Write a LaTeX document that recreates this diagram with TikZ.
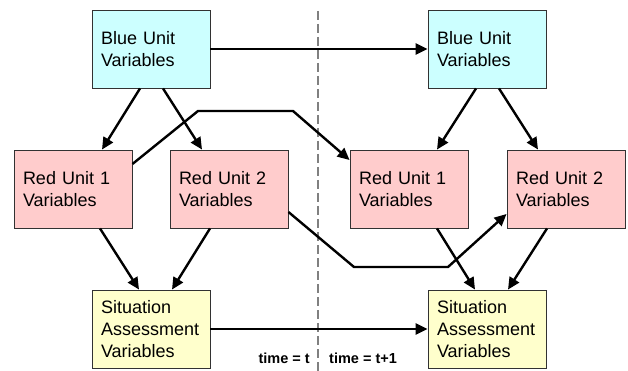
\documentclass[tikz,border=0pt]{standalone}
\usepackage{fontspec}
\setmainfont{Liberation Sans}
\usetikzlibrary{arrows.meta}

\definecolor{bluefill}{RGB}{204,255,255}
\definecolor{redfill}{RGB}{255,204,204}
\definecolor{yelfill}{RGB}{255,255,204}
\definecolor{boxline}{RGB}{50,50,50}

\tikzset{
    varbox/.style={rectangle, draw=boxline, line width=0.9pt,
        minimum width=118pt, minimum height=78pt, text width=100pt,
        inner xsep=9pt, align=left,
        font=\fontsize{18}{22}\selectfont},
    bluebox/.style={varbox, fill=bluefill},
    redbox/.style={varbox, fill=redfill},
    yelbox/.style={varbox, fill=yelfill},
    link/.style={line width=2.4pt, line join=miter,
        -{Triangle[length=12pt,width=11pt]}},
    timelabel/.style={inner sep=0pt, font=\fontsize{14.5}{16}\selectfont\bfseries}
}

\begin{document}
\begin{tikzpicture}[x=1pt, y=-1pt]

    \useasboundingbox (0,0) rectangle (628,371);

    % time slice divider
    \draw[gray, line width=1.4pt, dash pattern=on 9pt off 4pt] (318,11) -- (318,371);

    % slice t
    \node [bluebox] (bluL) at (151,49) {Blue Unit\\Variables};
    \node [redbox] (redaL) at (73,189) {Red Unit 1\\Variables};
    \node [redbox] (redbL) [right of=redaL, node distance=156pt] {Red Unit 2\\Variables};
    \node [yelbox] (sitL) [below of=bluL, node distance=280pt] {Situation\\Assessment\\Variables};

    % slice t+1
    \node [bluebox] (bluR) [right of=bluL, node distance=336pt] {Blue Unit\\Variables};
    \node [redbox] (redaR) [right of=redaL, node distance=336pt] {Red Unit 1\\Variables};
    \node [redbox] (redbR) [right of=redbL, node distance=337pt] {Red Unit 2\\Variables};
    \node [yelbox] (sitR) [right of=sitL, node distance=336pt] {Situation\\Assessment\\Variables};

    \node [timelabel, anchor=base east] (tnow) at (310,363) {time = t};
    \node [timelabel, anchor=base west] (tnext) at (329,363) {time = t+1};

    % within each slice
    \draw[link] ([xshift=-11pt]bluL.south) -- ([xshift=29pt]redaL.north);
    \draw[link] ([xshift=12pt]bluL.south) -- ([xshift=-27pt]redbL.north);
    \draw[link] ([xshift=27pt]redaL.south) -- ([xshift=-12pt]sitL.north);
    \draw[link] ([xshift=-19pt]redbL.south) -- ([xshift=21pt]sitL.north);

    \draw[link] ([xshift=-11pt]bluR.south) -- ([xshift=28pt]redaR.north);
    \draw[link] ([xshift=12pt]bluR.south) -- ([xshift=-28pt]redbR.north);
    \draw[link] ([xshift=28pt]redaR.south) -- ([xshift=-12pt]sitR.north);
    \draw[link] ([xshift=-19pt]redbR.south) -- ([xshift=21pt]sitR.north);

    % across slices
    \draw[link] (bluL.east) -- (bluR.west);
    \draw[link] (sitL.east) -- (sitR.west);
    \draw[link] ([yshift=25pt]redaL.east) -- (198,111) -- (293,111) -- ([yshift=29pt]redaR.west);
    \draw[link] ([yshift=-23pt]redbL.east) -- (354,267) -- (448,267) -- ([yshift=-25pt]redbR.west);

\end{tikzpicture}
\end{document}
